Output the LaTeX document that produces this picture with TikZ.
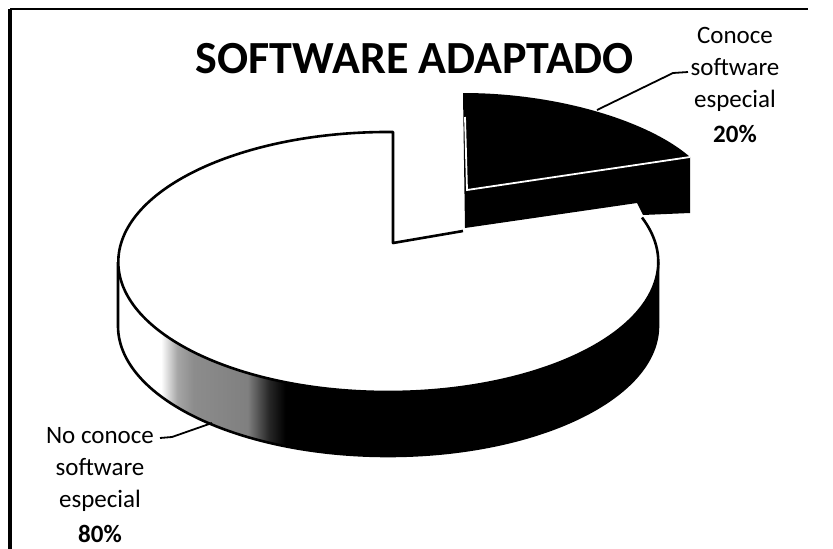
\documentclass[tikz,border=0pt]{standalone}
\usepackage{fontspec}
\setmainfont{Carlito}
\pgfdeclarehorizontalshading{sideshade}{100bp}{color(0bp)=(white); color(29bp)=(white); color(30.5bp)=(black!35); color(32bp)=(black!45); color(37bp)=(black!50); color(39bp)=(black!85); color(40.5bp)=(black); color(100bp)=(black)}
\tikzset{
  outline/.style={draw=black, line width=2.6pt, line join=round},
  lbl/.style={align=center, inner sep=0pt, anchor=north, font=\fontsize{25}{32}\selectfont},
  leader/.style={draw=black, line width=1.8pt},
  edgewhite/.style={draw=white, line width=1.8pt}
}
\begin{document}
\begin{tikzpicture}[x=1pt,y=-1pt]
\useasboundingbox (0,0) rectangle (833,549);
% frame
\draw[line width=2.5pt] (10,9) -- (808,9);
\draw[line width=3.5pt] (10,9) -- (10,549);
% title
\node[anchor=base, inner sep=0pt, font=\bfseries\fontsize{46}{50}\selectfont] (title) at (415,73) {SOFTWARE ADAPTADO};
% side of the large slice
\path[shading=sideshade] (118,262) arc[start angle=180, end angle=0, x radius=270, y radius=130]
  -- (658,326) arc[start angle=0, end angle=180, x radius=270, y radius=130] -- cycle;
\draw[outline] (118,262) -- (118,326) arc[start angle=180, end angle=0, x radius=270, y radius=130] -- (658,262);
% top face of the large slice
\fill[white] (463,231) -- (393,243) -- (393,132) arc[start angle=271, end angle=-20, x radius=270, y radius=130] -- cycle;
\draw[outline] (463,231) -- (393,243) -- (393,132) arc[start angle=271, end angle=-20, x radius=270, y radius=130];
% exploded small slice
\fill[black] (463,93) .. controls (560,93) and (650,122) .. (690,157) -- (690,213) -- (643,215) -- (637,203) -- (465,228) -- cycle;
\draw[edgewhite] (465,117) -- (467,190) -- (690,157);
% labels
\node[lbl] (l20) at (735,27) {Conoce\\software\\especial\\[3pt]\textbf{20\%}};
\node[lbl] (l80) at (100,427) {No conoce\\software\\especial\\[3pt]\textbf{80\%}};
% leaders
\coordinate (a20) at (688,72);
\coordinate (k20) at (673,73);
\coordinate (e20) at (597,110);
\coordinate (a80) at (160,438);
\coordinate (k80) at (172,437);
\coordinate (e80) at (212,423);
\draw[leader] (a20) -- (k20) -- (e20);
\draw[leader] (a80) -- (k80) -- (e80);
\end{tikzpicture}
\end{document}
